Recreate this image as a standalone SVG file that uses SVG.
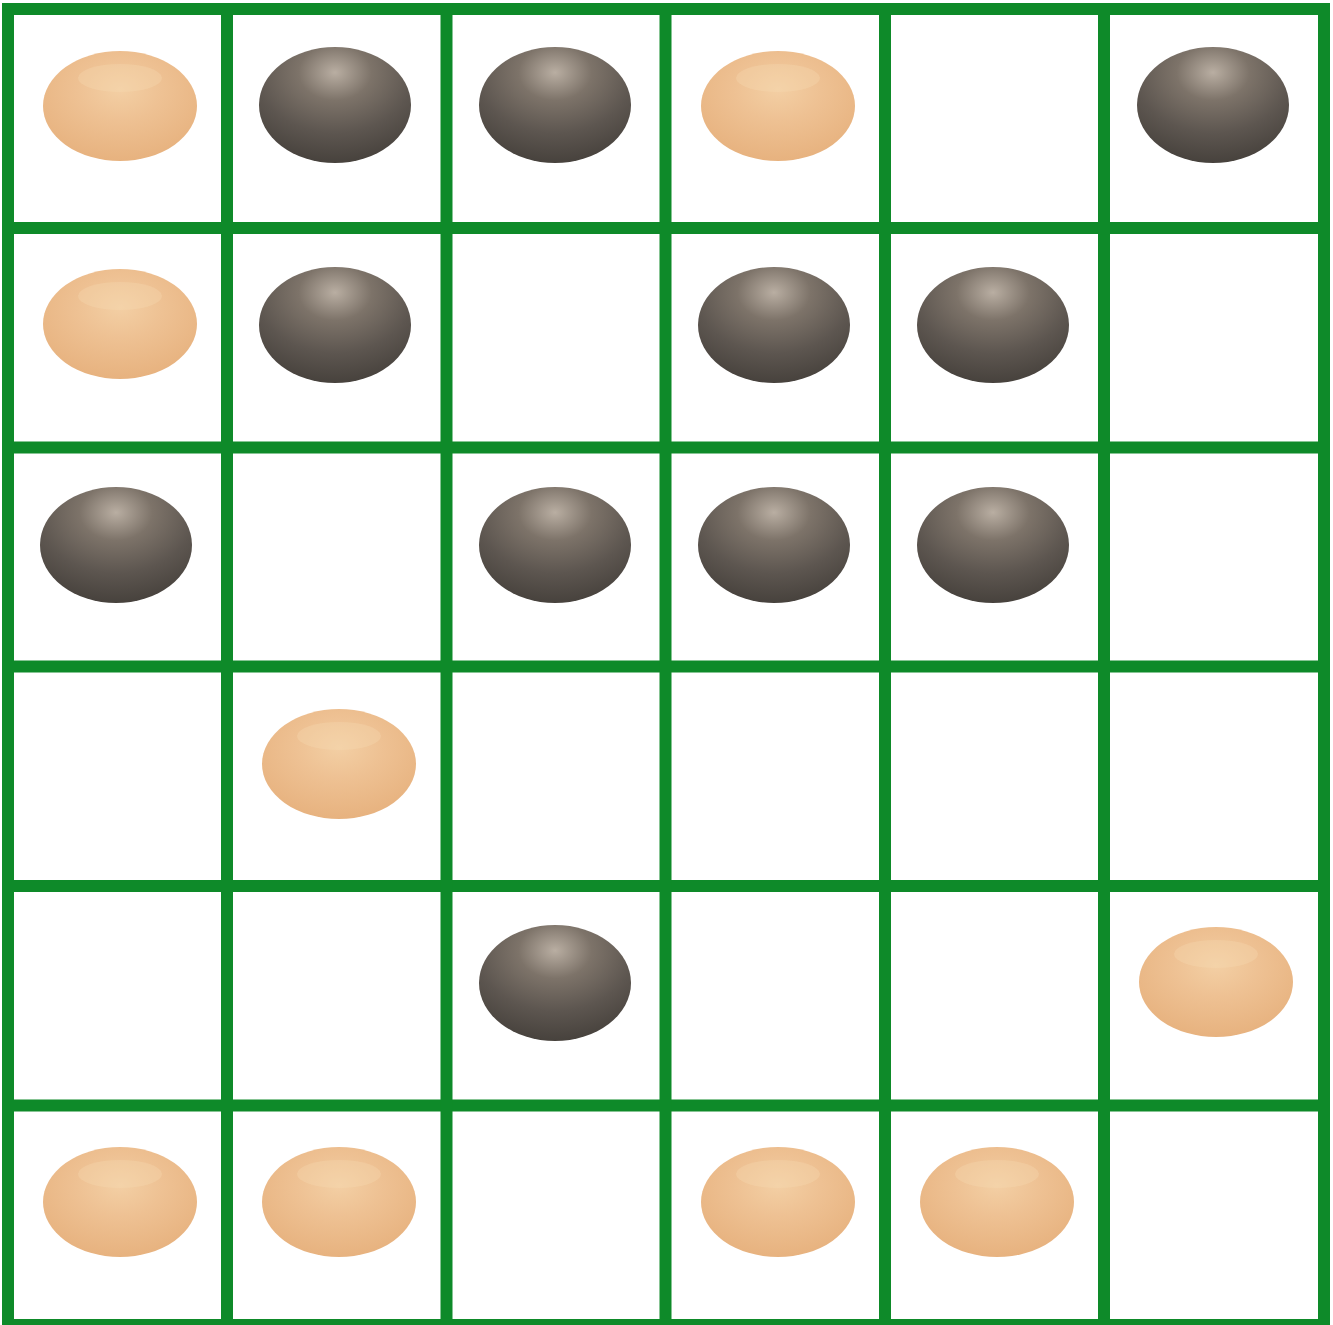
<svg xmlns="http://www.w3.org/2000/svg" xmlns:xlink="http://www.w3.org/1999/xlink" width="1333" height="1325" viewBox="0 0 1333 1325">
<style>
.grid line{stroke:#0e8a29;stroke-width:12}
</style>
<defs>
<radialGradient id="lg" cx="0.5" cy="0.35" r="0.7">
<stop offset="0" stop-color="#f3cfa4"/>
<stop offset="0.4" stop-color="#eec193"/>
<stop offset="1" stop-color="#e6b07c"/>
</radialGradient>
<radialGradient id="dg" cx="0.5" cy="0.22" r="0.8">
<stop offset="0" stop-color="#b9aea2"/>
<stop offset="0.3" stop-color="#7d7369"/>
<stop offset="0.65" stop-color="#5d5650"/>
<stop offset="1" stop-color="#45403b"/>
</radialGradient>
<symbol id="light" overflow="visible">
<ellipse cx="0" cy="0" rx="77" ry="55" fill="url(#lg)"/>
<ellipse cx="0" cy="-28" rx="42" ry="14" fill="#f7d9b3" opacity="0.35"/>
</symbol>
<symbol id="dark" overflow="visible">
<ellipse cx="0" cy="0" rx="76" ry="58" fill="url(#dg)"/>
</symbol>
</defs>
<rect width="1333" height="1325" fill="#ffffff"/>
<g id="connectors" class="grid">
<line x1="2" y1="9" x2="1330" y2="9"/>
<line x1="2" y1="228" x2="1330" y2="228"/>
<line x1="2" y1="447.5" x2="1330" y2="447.5"/>
<line x1="2" y1="666.5" x2="1330" y2="666.5"/>
<line x1="2" y1="886" x2="1330" y2="886"/>
<line x1="2" y1="1105.5" x2="1330" y2="1105.5"/>
<line x1="2" y1="1325" x2="1330" y2="1325"/>
<line x1="8" y1="3" x2="8" y2="1325"/>
<line x1="227" y1="3" x2="227" y2="1325"/>
<line x1="446.5" y1="3" x2="446.5" y2="1325"/>
<line x1="665.5" y1="3" x2="665.5" y2="1325"/>
<line x1="885" y1="3" x2="885" y2="1325"/>
<line x1="1104" y1="3" x2="1104" y2="1325"/>
<line x1="1324" y1="3" x2="1324" y2="1325"/>
</g>
<g id="r0c0"><use href="#light" x="120" y="106"/></g>
<g id="r0c1"><use href="#dark" x="335" y="105"/></g>
<g id="r0c2"><use href="#dark" x="555" y="105"/></g>
<g id="r0c3"><use href="#light" x="778" y="106"/></g>
<g id="r0c5"><use href="#dark" x="1213" y="105"/></g>
<g id="r1c0"><use href="#light" x="120" y="324"/></g>
<g id="r1c1"><use href="#dark" x="335" y="325"/></g>
<g id="r1c3"><use href="#dark" x="774" y="325"/></g>
<g id="r1c4"><use href="#dark" x="993" y="325"/></g>
<g id="r2c0"><use href="#dark" x="116" y="545"/></g>
<g id="r2c2"><use href="#dark" x="555" y="545"/></g>
<g id="r2c3"><use href="#dark" x="774" y="545"/></g>
<g id="r2c4"><use href="#dark" x="993" y="545"/></g>
<g id="r3c1"><use href="#light" x="339" y="764"/></g>
<g id="r4c2"><use href="#dark" x="555" y="983"/></g>
<g id="r4c5"><use href="#light" x="1216" y="982"/></g>
<g id="r5c0"><use href="#light" x="120" y="1202"/></g>
<g id="r5c1"><use href="#light" x="339" y="1202"/></g>
<g id="r5c3"><use href="#light" x="778" y="1202"/></g>
<g id="r5c4"><use href="#light" x="997" y="1202"/></g>
</svg>
